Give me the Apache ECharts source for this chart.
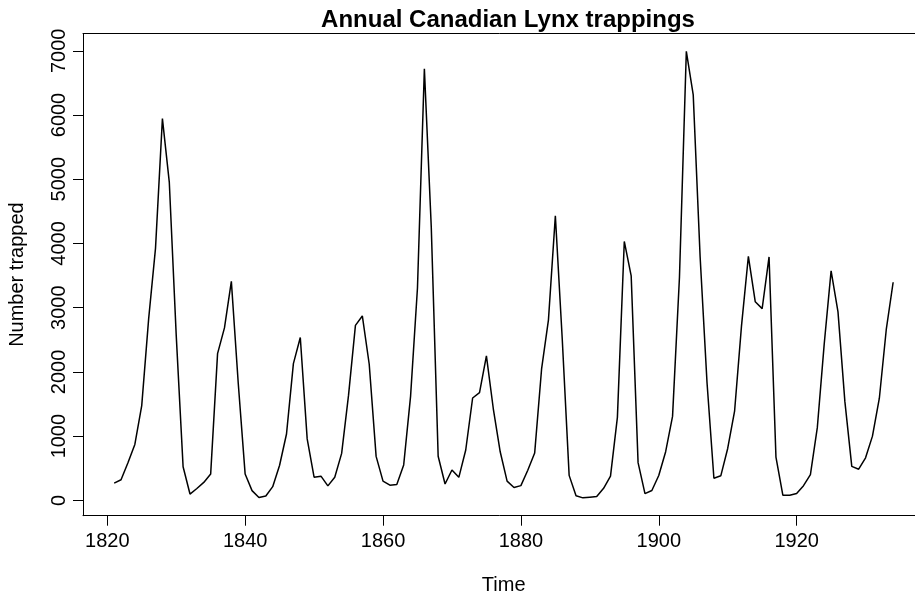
<!DOCTYPE html>
<html>
<head>
<meta charset="utf-8">
<script src="https://cdn.jsdelivr.net/npm/echarts@6/dist/echarts.min.js"></script>
<style>
  html, body { margin: 0; padding: 0; background: #fff; }
  #chart { width: 915px; height: 595px; }
</style>
</head>
<body>
<div id="chart"></div>
<script>
  // annual lynx trappings, 1821 - 1934
  var startYear = 1821;
  var lynx = [269, 321, 585, 871, 1475, 2821, 3928, 5943, 4950, 2577, 523, 98, 184, 279, 409,
    2285, 2685, 3409, 1824, 409, 151, 45, 68, 213, 546, 1033, 2129, 2536, 957, 361, 377, 225,
    360, 731, 1638, 2725, 2871, 2119, 684, 299, 236, 245, 552, 1623, 3311, 6721, 4254, 687,
    255, 473, 358, 784, 1594, 1676, 2251, 1426, 756, 299, 201, 229, 469, 736, 2042, 2811,
    4431, 2511, 389, 73, 39, 49, 59, 188, 377, 1292, 4031, 3495, 587, 105, 153, 387, 758,
    1307, 3465, 6991, 6313, 3794, 1836, 345, 382, 808, 1388, 2713, 3800, 3091, 2985, 3790,
    674, 81, 80, 108, 229, 399, 1132, 2432, 3574, 2935, 1537, 529, 485, 662, 1000, 1590,
    2657, 3396];
  var xTicks = [1820, 1840, 1860, 1880, 1900, 1920];
  var yTicks = [0, 1000, 2000, 3000, 4000, 5000, 6000, 7000];

  var points = [];
  for (var i = 0; i < lynx.length; i++) {
    points.push([startYear + i, lynx[i]]);
  }

  var font = 'Liberation Sans, Arial, Helvetica, sans-serif';
  var plain = function (v) { return String(v); };
  var chart = echarts.init(document.getElementById('chart'));
  var option = {
    animation: false,
    backgroundColor: '#fff',
    title: {
      text: 'Annual Canadian Lynx trappings',
      left: 503,
      top: 3,
      textAlign: 'center',
      textStyle: { fontFamily: font, fontSize: 24, fontWeight: 'bold', color: '#000' }
    },
    grid: {
      left: 83, top: 33.5, right: -9.3, bottom: 79.3,
      outerBoundsMode: 'none',
      show: false
    },
    xAxis: [
      {
        type: 'value',
        min: 1816.48,
        max: 1938.52,
        name: 'Time',
        nameLocation: 'middle',
        nameGap: 60,
        nameTextStyle: { fontFamily: font, fontSize: 20, color: '#000' },
        axisLine: { show: true, onZero: false, lineStyle: { color: '#000', width: 1 } },
        splitLine: { show: false },
        axisTick: { show: true, length: 10, lineStyle: { color: '#000' }, customValues: xTicks },
        axisLabel: { fontFamily: font, fontSize: 20, color: '#000', margin: 16, formatter: plain, customValues: xTicks }
      },
      {
        // top edge of the box
        type: 'value',
        position: 'top',
        min: 1816.48,
        max: 1938.52,
        axisLine: { show: true, onZero: false, lineStyle: { color: '#000', width: 1 } },
        splitLine: { show: false },
        axisTick: { show: false },
        axisLabel: { show: false }
      }
    ],
    yAxis: {
      type: 'value',
      min: -239,
      max: 7269,
      name: 'Number trapped',
      nameLocation: 'middle',
      nameRotate: 90,
      nameGap: 56,
      nameTextStyle: { fontFamily: font, fontSize: 20, color: '#000' },
      axisLine: { show: true, onZero: false, lineStyle: { color: '#000', width: 1 } },
      splitLine: { show: false },
      axisTick: { show: true, length: 10, lineStyle: { color: '#000' }, customValues: yTicks },
      axisLabel: { fontFamily: font, fontSize: 20, color: '#000', rotate: 90, margin: 14, formatter: plain, customValues: yTicks }
    },
    series: [
      {
        name: 'lynx',
        type: 'line',
        symbol: 'none',
        lineStyle: { color: '#000', width: 1.5 },
        data: points
      }
    ]
  };
  chart.setOption(option);
</script>
</body>
</html>
